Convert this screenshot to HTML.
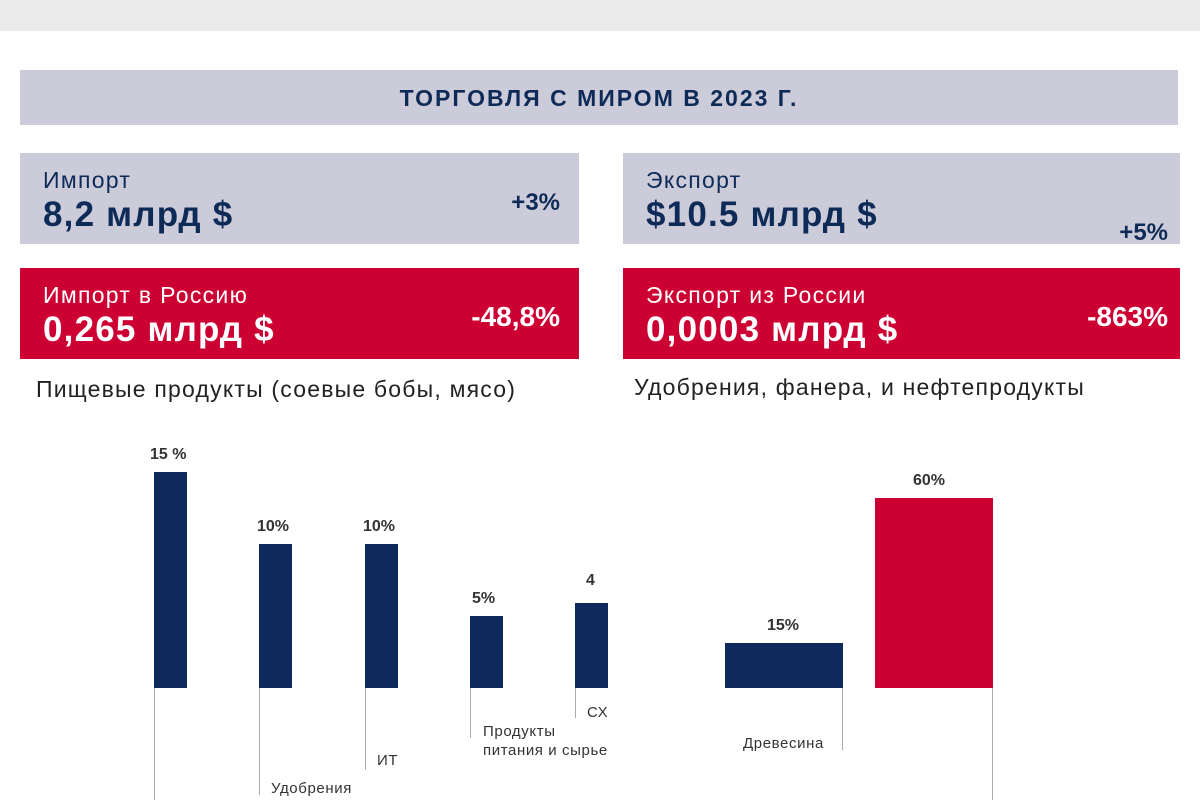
<!DOCTYPE html>
<html><head><meta charset="utf-8"><style>
body{margin:0;width:1200px;height:800px;background:#fff;position:relative;overflow:hidden;font-family:"Liberation Sans","DejaVu Sans",sans-serif;}
div{position:absolute;}
.g{background:#cccbd9;color:#0e2a56;}
.r{background:#cc0033;color:#fff;}
.lab{font-size:23px;left:23px;top:14px;white-space:nowrap;letter-spacing:1.3px;}
.val{font-size:35px;font-weight:bold;left:23px;top:42px;white-space:nowrap;letter-spacing:1.2px;}
.pct{font-size:24px;font-weight:bold;white-space:nowrap;}
.bar{background:#0e2a5c;}
.ln{width:1px;background:#aaa;}
.bl{font-size:16px;font-weight:bold;color:#333;white-space:nowrap;}
.cl{font-size:15px;color:#333;white-space:nowrap;line-height:19px;letter-spacing:0.6px;}
.sub{font-size:23px;color:#222;white-space:nowrap;letter-spacing:1.2px;}
</style></head><body>
<div style="left:0;top:0;width:1200px;height:31px;background:#ebebeb"></div>
<div class="g" style="left:20px;top:70px;width:1158px;height:55px;text-align:center;line-height:56px;font-size:23px;font-weight:bold;letter-spacing:2px;">ТОРГОВЛЯ С МИРОМ В 2023 Г.</div>

<div class="g" style="left:20px;top:153px;width:559px;height:91px">
<div class="lab">Импорт</div><div class="val">8,2 млрд $</div>
<div class="pct" style="right:19px;top:36px">+3%</div></div>
<div class="r" style="left:20px;top:268px;width:559px;height:91px">
<div class="lab">Импорт в Россию</div><div class="val">0,265 млрд $</div>
<div class="pct" style="right:19px;top:33px;font-size:28px">-48,8%</div></div>
<div class="sub" style="left:36px;top:376px">Пищевые продукты (соевые бобы, мясо)</div>

<div class="g" style="left:623px;top:153px;width:557px;height:91px">
<div class="lab">Экспорт</div><div class="val">$10.5 млрд $</div>
<div class="pct" style="right:12px;top:66px">+5%</div></div>
<div class="r" style="left:623px;top:268px;width:557px;height:91px">
<div class="lab">Экспорт из России</div><div class="val">0,0003 млрд $</div>
<div class="pct" style="right:12px;top:33px;font-size:28px">-863%</div></div>
<div class="sub" style="left:634px;top:374px">Удобрения, фанера, и нефтепродукты</div>

<div class="bar" style="left:154px;top:472px;width:33px;height:216px"></div>
<div class="bar" style="left:259px;top:544px;width:33px;height:144px"></div>
<div class="bar" style="left:365px;top:544px;width:33px;height:144px"></div>
<div class="bar" style="left:470px;top:616px;width:33px;height:72px"></div>
<div class="bar" style="left:575px;top:603px;width:33px;height:85px"></div>
<div class="bar" style="left:725px;top:643px;width:118px;height:45px"></div>
<div style="left:875px;top:498px;width:118px;height:190px;background:#cc0033"></div>

<div class="ln" style="left:154px;top:688px;height:112px"></div>
<div class="ln" style="left:259px;top:688px;height:107px"></div>
<div class="ln" style="left:365px;top:688px;height:82px"></div>
<div class="ln" style="left:470px;top:688px;height:50px"></div>
<div class="ln" style="left:575px;top:688px;height:30px"></div>
<div class="ln" style="left:842px;top:688px;height:62px"></div>
<div class="ln" style="left:992px;top:688px;height:112px"></div>

<div class="bl" style="left:150px;top:446px">15 %</div>
<div class="bl" style="left:257px;top:518px">10%</div>
<div class="bl" style="left:363px;top:518px">10%</div>
<div class="bl" style="left:472px;top:590px">5%</div>
<div class="bl" style="left:586px;top:572px">4</div>
<div class="bl" style="left:767px;top:617px">15%</div>
<div class="bl" style="left:913px;top:472px">60%</div>

<div class="cl" style="left:271px;top:779px">Удобрения</div>
<div class="cl" style="left:377px;top:751px">ИТ</div>
<div class="cl" style="left:483px;top:722px">Продукты<br>питания и сырье</div>
<div class="cl" style="left:587px;top:703px">СХ</div>
<div class="cl" style="left:743px;top:734px">Древесина</div>
</body></html>
